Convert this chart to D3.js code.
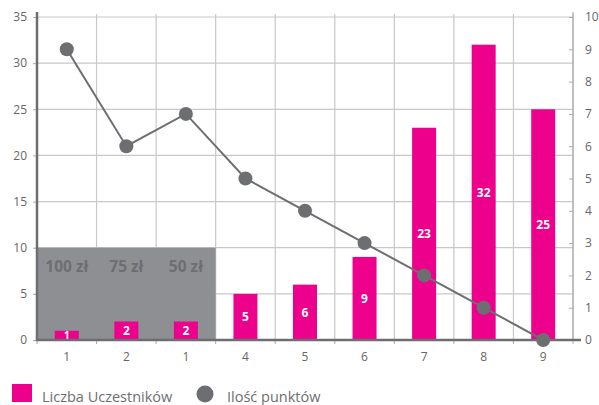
<!DOCTYPE html>
<html><head><meta charset="utf-8">
<script src="https://cdn.jsdelivr.net/npm/d3@7"></script>
<style>body{margin:0;background:#fff;} text{font-family:"Open Sans",sans-serif;}</style>
</head><body>
<svg id="c" width="599" height="405"></svg>
<script>
const categories = ["1","2","1","4","5","6","7","8","9"];
const participants = [1,2,2,5,6,9,23,32,25];
const points = [9,6,7,5,4,3,2,1,0];
const prizes = ["100 zł","75 zł","50 zł"];
const leftTicks = [0,5,10,15,20,25,30,35];
const rightTicks = [0,1,2,3,4,5,6,7,8,9,10];

const svg = d3.select("#c");
const L = 37, R = 573, T = 17, B = 340;
const x = d3.scaleBand().domain(d3.range(categories.length)).range([L,R]).paddingInner(0).paddingOuter(0);
const yL = d3.scaleLinear().domain([0,35]).range([B,T]);
const yR = d3.scaleLinear().domain([0,10]).range([B,T]);
const MAG = "#ec008c", GR = "#6d6e71";

// grid
svg.append("g").selectAll("line").data(leftTicks.filter(d=>d>0)).join("line")
  .attr("x1",L).attr("x2",R).attr("y1",d=>yL(d)).attr("y2",d=>yL(d))
  .attr("stroke","#c8c8c8").attr("stroke-width",1.2);
svg.append("g").selectAll("line").data(d3.range(categories.length+1)).join("line")
  .attr("x1",d=>L+d*x.step()).attr("x2",d=>L+d*x.step()).attr("y1",B).attr("y2",T-3)
  .attr("stroke","#c8c8c8").attr("stroke-width",1.2);

// gray prize box
svg.append("rect").attr("x",x(0)).attr("y",yL(10)).attr("width",x.step()*3).attr("height",B-yL(10))
  .attr("fill","#8e8f93");
svg.append("g").selectAll("text").data(prizes).join("text")
  .attr("x",(d,i)=>x(i)+x.step()/2).attr("y",yL(10)+24).attr("text-anchor","middle")
  .attr("font-size",15.5).attr("font-weight","bold").attr("fill","#6d6e71").text(d=>d);

// bars
const bw = 24;
svg.append("g").selectAll("rect").data(participants).join("rect")
  .attr("x",(d,i)=>x(i)+x.step()/2-bw/2).attr("width",bw)
  .attr("y",d=>yL(d)).attr("height",d=>B-yL(d)).attr("fill",MAG);
svg.append("g").selectAll("text").data(participants).join("text")
  .attr("x",(d,i)=>x(i)+x.step()/2).attr("y",d=>(yL(d)+B)/2)
  .attr("dy","0.36em").attr("text-anchor","middle")
  .attr("font-size",d=>d<2?10:12).attr("font-weight","bold").attr("fill","#fff").text(d=>d);

// axes
const axL = svg.append("g").attr("transform",`translate(${L},0)`)
  .call(d3.axisLeft(yL).tickValues(leftTicks).tickSize(4).tickPadding(6));
const axR = svg.append("g").attr("transform",`translate(${R},0)`)
  .call(d3.axisRight(yR).tickValues(rightTicks).tickSize(0).tickPadding(12));
axR.selectAll(".tick").append("line").attr("x1",-4).attr("x2",0).attr("stroke","#aaa");
[axL,axR].forEach(a=>{a.selectAll("text").attr("font-size",12).attr("fill","#666");a.select(".domain").remove();});
svg.append("line").attr("x1",L).attr("x2",L).attr("y1",T-5).attr("y2",B+1).attr("stroke",GR).attr("stroke-width",2.5);
svg.append("line").attr("x1",R).attr("x2",R).attr("y1",T-5).attr("y2",B).attr("stroke","#aaa").attr("stroke-width",1.2);
axL.selectAll(".tick line").attr("stroke","#aaa");

const axB = svg.append("g").attr("transform",`translate(0,${B})`);
axB.selectAll("line").data(d3.range(categories.length+1)).join("line")
  .attr("x1",d=>L+d*x.step()).attr("x2",d=>L+d*x.step()).attr("y1",0).attr("y2",4).attr("stroke","#aaa");
axB.selectAll("text").data(categories).join("text")
  .attr("x",(d,i)=>x(i)+x.step()/2).attr("y",21).attr("text-anchor","middle")
  .attr("font-size",12).attr("fill","#666").text(d=>d);
svg.append("line").attr("x1",L-1).attr("x2",R+8).attr("y1",B).attr("y2",B).attr("stroke",GR).attr("stroke-width",2.5);

// line
const line = d3.line().x((d,i)=>x(i)+x.step()/2).y(d=>yR(d));
svg.append("path").datum(points).attr("d",line).attr("fill","none").attr("stroke",GR).attr("stroke-width",2);
svg.append("g").selectAll("circle").data(points).join("circle")
  .attr("cx",(d,i)=>x(i)+x.step()/2).attr("cy",d=>yR(d)).attr("r",7).attr("fill",GR);

// legend
svg.append("rect").attr("x",12).attr("y",384).attr("width",20).attr("height",18).attr("fill",MAG);
svg.append("text").attr("x",42).attr("y",402).attr("font-size",14.5).attr("fill","#6d6e71").text("Liczba Uczestników");
svg.append("circle").attr("cx",205).attr("cy",394).attr("r",8.5).attr("fill",GR);
svg.append("text").attr("x",227).attr("y",402).attr("font-size",14.5).attr("fill","#6d6e71").text("Ilość punktów");
</script>
</body></html>
